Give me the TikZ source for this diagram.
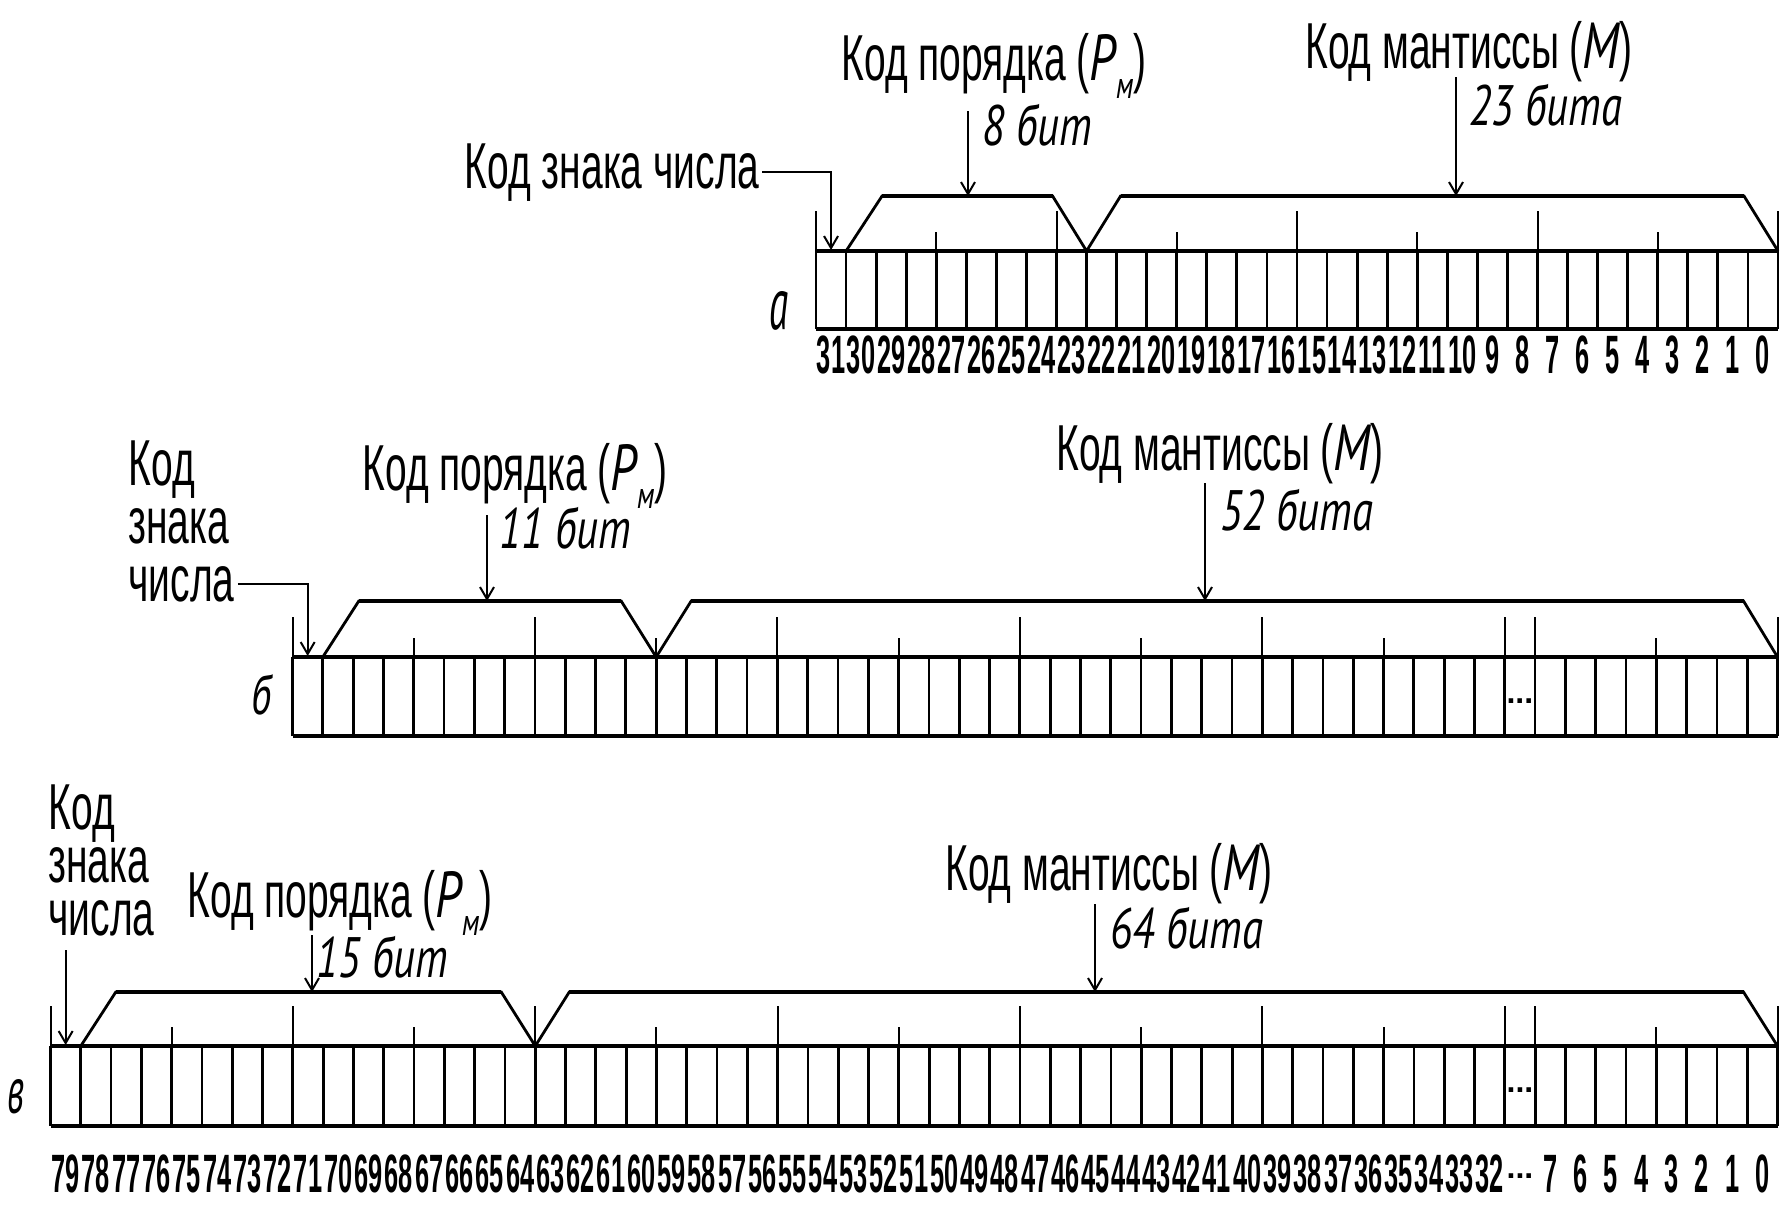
\documentclass[tikz,border=0pt]{standalone}
\usepackage{fontspec}
\usepackage{graphicx}
\setmainfont{Liberation Sans}
\newfontfamily\uf[FakeStretch=0.60]{Liberation Sans}
\newfontfamily\itf[FakeStretch=0.75]{PT Sans}
\newfontfamily\nf[FakeStretch=0.47]{Liberation Sans}
\usetikzlibrary{arrows.meta,calc}
\newcommand\Pmm{{\itf\itshape P\raisebox{-0.28em}{\fontsize{19}{19}\selectfont м}}}
\newcommand\Mit{{\itf\itshape M}}
\tikzset{
  regline/.style={line width=2.2pt},
  cellline/.style={line width=1.4pt},
  tickline/.style={line width=1pt},
  trapline/.style={line width=1.4pt, line join=miter},
  traptop/.style={line width=2.3pt},
  arr/.style={line width=1pt, -{Straight Barb[length=6pt,width=7pt,line width=1pt]}},
  lbl/.style={inner sep=0pt, font=\uf\fontsize{32.5}{39}\selectfont},
  itl/.style={inner sep=0pt, font=\itf\itshape\fontsize{28.5}{34}\selectfont},
  numl/.style={inner sep=0pt, font=\nf\bfseries\fontsize{27}{30}\selectfont},
  dotsl/.style={inner sep=0pt, font=\bfseries\fontsize{16}{16}\selectfont},
  letl/.style={inner sep=0pt},
}
\begin{document}
\begin{tikzpicture}[x=0.5pt,y=-0.5pt]
\useasboundingbox (0,0) rectangle (1783,1206);

% ================= a =================
\begin{scope}
\def\rL{816}\def\rR{1778}\def\rW{30.0625}\def\rT{251}\def\rB{329}\def\rH{196}
\draw[regline] (\rL,\rT) -- (\rR,\rT) (\rL,\rB) -- (\rR,\rB);
\foreach \k in {0,...,32} \draw[cellline] ({\rL+\k*\rW},\rT) -- ({\rL+\k*\rW},\rB);
\foreach \k in {0,8,16,24,32} \draw[tickline] ({\rL+\k*\rW},\rT) -- ++(0,-40);
\foreach \k in {4,12,20,28} \draw[tickline] ({\rL+\k*\rW},\rT) -- ++(0,-19);
\draw[trapline] ({\rL+\rW},\rT) -- ({\rL+\rW+36},\rH) -- ({\rL+9*\rW-34},\rH) -- ({\rL+9*\rW},\rT)
  -- ({\rL+9*\rW+34},\rH) -- ({\rR-34},\rH) -- (\rR,\rT);
\draw[traptop] ({\rL+\rW+36},\rH) -- ({\rL+9*\rW-34},\rH) ({\rL+9*\rW+34},\rH) -- ({\rR-34},\rH);
\foreach \i in {0,...,31} {\pgfmathtruncatemacro\nn{31-\i}
  \node[numl] (an\i) at ({\rL+(\i+0.5)*\rW},355) {\nn};}
\node[letl] (alab) at (779,311) {\resizebox{9.5pt}{19pt}{\itf\itshape а}};
\node[lbl, anchor=base east] (asign) at (760,188) {Код знака числа};
\coordinate (asignE) at ({\rL+0.5*\rW},{\rT-1});
\draw[arr] ([xshift=1pt]asign.east) -| (asignE);
\node[lbl, anchor=base] (aexp) at (994,80) {Код порядка (\Pmm)};
\node[itl, anchor=base west] (aexpb) at (982,145) {8 бит};
\coordinate (aexpS) at (968,111); \coordinate (aexpE) at (968,\rH);
\draw[arr] (aexpS) -- (aexpE);
\node[lbl, anchor=base] (amant) at (1469,68) {Код мантиссы (\Mit)};
\node[itl, anchor=base west] (amantb) at (1469,125) {23 бита};
\coordinate (amantS) at (1456,77); \coordinate (amantE) at (1456,\rH);
\draw[arr] (amantS) -- (amantE);
\end{scope}

% ================= b =================
\begin{scope}
\def\rL{292.5}\def\rR{1777.5}\def\rW{30.306}\def\rT{657}\def\rB{736}\def\rH{601}
\draw[regline] (\rL,\rT) -- (\rR,\rT) (\rL,\rB) -- (\rR,\rB);
\foreach \k in {0,...,49} \draw[cellline] ({\rL+\k*\rW},\rT) -- ({\rL+\k*\rW},\rB);
\foreach \k in {0,8,16,24,32,40,41,49} \draw[tickline] ({\rL+\k*\rW},\rT) -- ++(0,-40);
\foreach \k in {4,12,20,28,36,45} \draw[tickline] ({\rL+\k*\rW},\rT) -- ++(0,-19);
\draw[trapline] ({\rL+\rW},\rT) -- ({\rL+\rW+36},\rH) -- ({\rL+12*\rW-35},\rH) -- ({\rL+12*\rW},\rT)
  -- ({\rL+12*\rW+35},\rH) -- ({\rR-34},\rH) -- (\rR,\rT);
\draw[traptop] ({\rL+\rW+36},\rH) -- ({\rL+12*\rW-35},\rH) ({\rL+12*\rW+35},\rH) -- ({\rR-34},\rH);
\node[dotsl] (bdots) at ({\rL+40.5*\rW},701) {...};
\node[letl] (blab) at (261,695) {\resizebox{10pt}{20pt}{\itf\itshape б}};
\node[lbl, align=left, anchor=south west, font=\uf\fontsize{32.5}{29pt}\selectfont] (bsign) at (128,603) {Ко\smash{д}\\знака\\числа};
\coordinate (bsignS) at ($(bsign.south east)+(3,-19)$);
\coordinate (bsignE) at ({\rL+0.5*\rW},{\rT-1});
\draw[arr] (bsignS) -| (bsignE);
\node[lbl, anchor=base] (bexp) at (515,490) {Код порядка (\Pmm)};
\node[itl, anchor=base west] (bexpb) at (499,548) {11 бит};
\coordinate (bexpS) at (487,515); \coordinate (bexpE) at (487,\rH);
\draw[arr] (bexpS) -- (bexpE);
\node[lbl, anchor=base] (bmant) at (1220,470) {Код мантиссы (\Mit)};
\node[itl, anchor=base west] (bmantb) at (1220,530) {52 бита};
\coordinate (bmantS) at (1205,483); \coordinate (bmantE) at (1205,\rH);
\draw[arr] (bmantS) -- (bmantE);
\end{scope}

% ================= c =================
\begin{scope}
\def\rL{50.5}\def\rR{1777.5}\def\rW{30.298}\def\rT{1046}\def\rB{1126}\def\rH{992}
\draw[regline] (\rL,\rT) -- (\rR,\rT) (\rL,\rB) -- (\rR,\rB);
\foreach \k in {0,...,57} \draw[cellline] ({\rL+\k*\rW},\rT) -- ({\rL+\k*\rW},\rB);
\foreach \k in {0,8,16,24,32,40,48,49,57} \draw[tickline] ({\rL+\k*\rW},\rT) -- ++(0,-40);
\foreach \k in {4,12,20,28,36,44,53} \draw[tickline] ({\rL+\k*\rW},\rT) -- ++(0,-19);
\draw[trapline] ({\rL+\rW},\rT) -- ({\rL+\rW+35},\rH) -- ({\rL+16*\rW-34},\rH) -- ({\rL+16*\rW},\rT)
  -- ({\rL+16*\rW+34},\rH) -- ({\rR-34},\rH) -- (\rR,\rT);
\draw[traptop] ({\rL+\rW+35},\rH) -- ({\rL+16*\rW-34},\rH) ({\rL+16*\rW+34},\rH) -- ({\rR-34},\rH);
\node[dotsl] (cdots) at ({\rL+48.5*\rW},1090) {...};
\foreach \i in {0,...,47} {\pgfmathtruncatemacro\nn{79-\i}
  \node[numl] (cn\i) at ({\rL+(\i+0.5)*\rW},1174) {\nn};}
\node[dotsl] (cndots) at ({\rL+48.5*\rW},1176) {...};
\foreach \i in {49,...,56} {\pgfmathtruncatemacro\nn{56-\i}
  \node[numl] (cn\i) at ({\rL+(\i+0.5)*\rW},1174) {\nn};}
\node[letl] (clab) at (16.5,1097) {\resizebox{8.5pt}{17pt}{\itf\itshape в}};
\node[lbl, align=left, anchor=south west, font=\uf\fontsize{32.5}{26.5pt}\selectfont] (csign) at (48,937) {Ко\smash{д}\\знака\\числа};
\coordinate (csignS) at ({\rL+0.5*\rW},950); \coordinate (csignE) at ({\rL+0.5*\rW},{\rT-1});
\draw[arr] (csignS) -- (csignE);
\node[lbl, anchor=base] (cexp) at (340,917) {Код порядка (\Pmm)};
\node[itl, anchor=base west] (cexpb) at (316,977) {15 бит};
\coordinate (cexpS) at (312,935); \coordinate (cexpE) at (312,\rH);
\draw[arr] (cexpS) -- (cexpE);
\node[lbl, anchor=base] (cmant) at (1109,890) {Код мантиссы (\Mit)};
\node[itl, anchor=base west] (cmantb) at (1110,948) {64 бита};
\coordinate (cmantS) at (1095,904); \coordinate (cmantE) at (1095,\rH);
\draw[arr] (cmantS) -- (cmantE);
\end{scope}
\end{tikzpicture}
\end{document}
